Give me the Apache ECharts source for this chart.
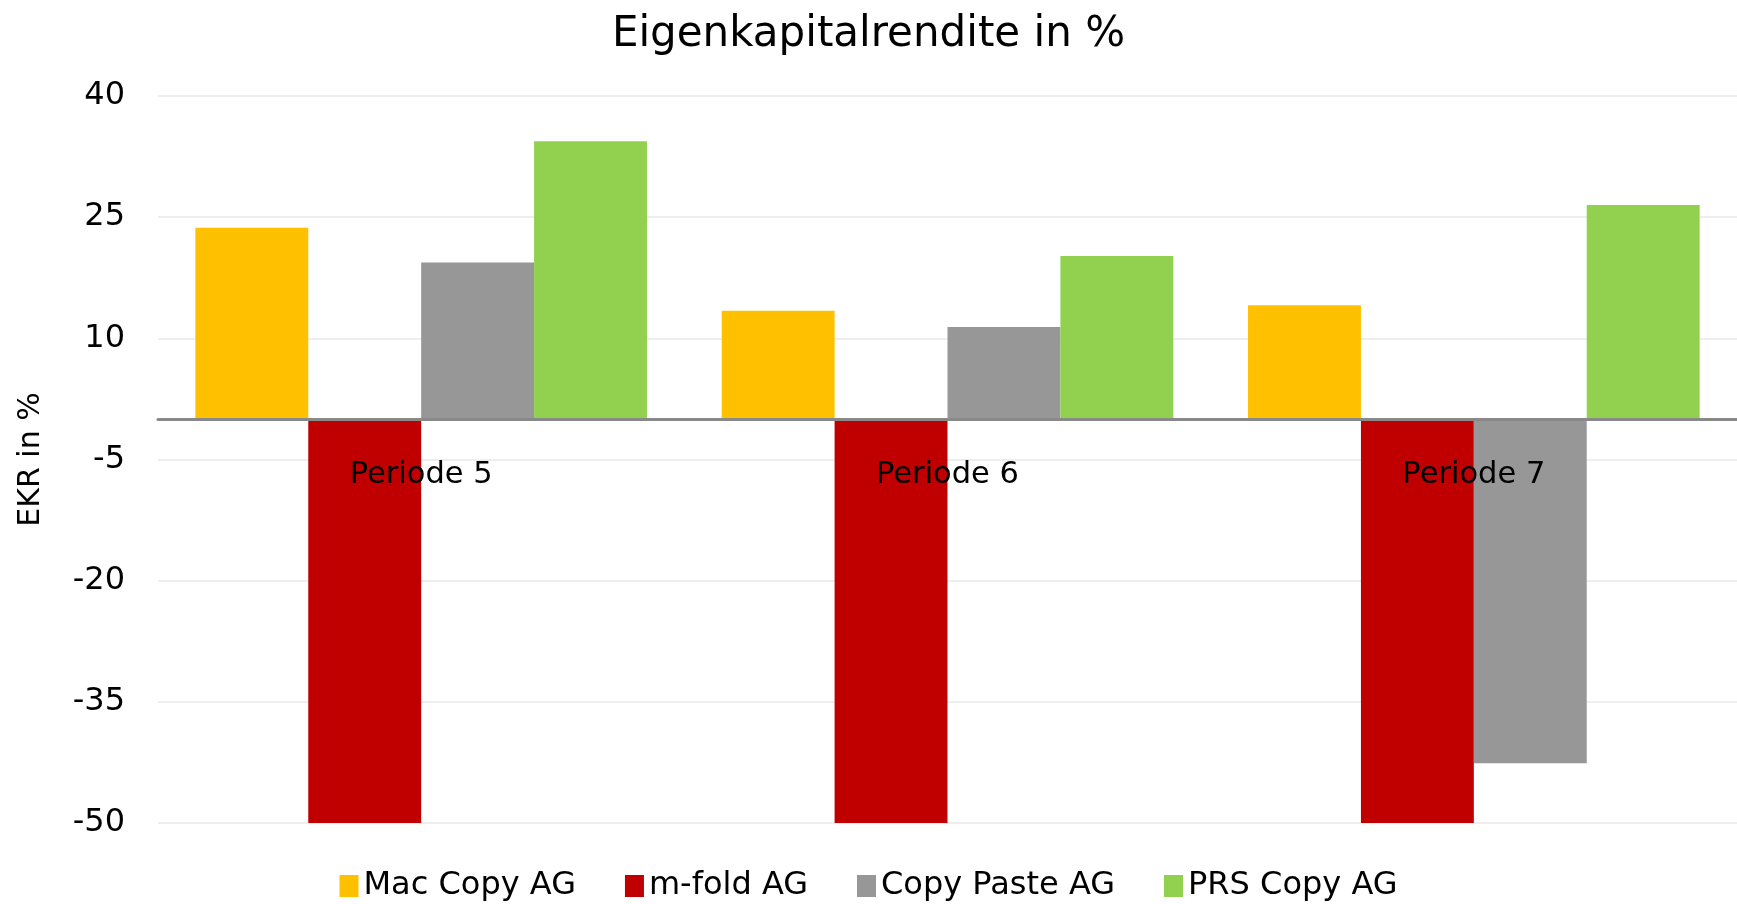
<!DOCTYPE html>
<html>
<head>
<meta charset="utf-8">
<title>Eigenkapitalrendite in %</title>
<script src="https://cdn.jsdelivr.net/npm/echarts@6/dist/echarts.min.js"></script>
<style>
  html, body { margin: 0; padding: 0; background: #fff; }
  #chart { width: 1737px; height: 904px; }
</style>
</head>
<body>
<div id="chart"></div>
<script>
// Perioden und Werte (EKR in %)
var periods = ['Periode 5', 'Periode 6', 'Periode 7'];
var macCopy = [23.7, 13.4, 14.1];
var mFold = [-50, -50, -50];
var copyPaste = [19.4, 11.4, -42.6];
var prsCopy = [34.4, 20.2, 26.5];

var font = 'DejaVu Sans';

var chart = echarts.init(document.getElementById('chart'));

chart.setOption({
    animation: false,
    textStyle: { fontFamily: font },
    title: {
        text: 'Eigenkapitalrendite in %',
        left: 'center',
        top: 9,
        textStyle: { fontFamily: font, fontSize: 42, fontWeight: 'normal', color: '#000' }
    },
    legend: {
        bottom: -3,
        left: 'center',
        itemWidth: 19,
        itemHeight: 22,
        itemGap: 49,
        icon: 'rect',
        textStyle: { fontFamily: font, fontSize: 32, color: '#000', padding: [0, 0, 0, 0] },
        data: ['Mac Copy AG', 'm-fold AG', 'Copy Paste AG', 'PRS Copy AG']
    },
    grid: {
        left: 158,
        right: 0,
        top: 96,
        bottom: 81
    },
    xAxis: {
        type: 'category',
        data: periods,
        z: 10,
        axisLine: { onZero: true, lineStyle: { color: '#898989', width: 3 } },
        axisTick: { show: false },
        // Beschriftung unter der Nulllinie, nicht am unteren Rand
        axisLabel: { fontFamily: font, fontSize: 30.5, color: '#000', margin: -363 },
        splitLine: { show: false }
    },
    yAxis: {
        type: 'value',
        min: -50,
        max: 40,
        interval: 15,
        name: 'EKR in %',
        nameLocation: 'middle',
        nameGap: 112,
        nameTextStyle: { fontFamily: font, fontSize: 30, color: '#000' },
        axisLine: { show: false },
        axisTick: { show: false },
        axisLabel: { fontFamily: font, fontSize: 32, color: '#000', margin: 33, padding: [6, 0, 0, 0] },
        splitLine: { lineStyle: { color: '#eeeeee', width: 2 } }
    },
    series: [
        {
            name: 'Mac Copy AG',
            type: 'bar',
            data: macCopy,
            barGap: '0%',
            barCategoryGap: '14.2%',
            itemStyle: { color: '#FFC000' }
        },
        {
            name: 'm-fold AG',
            type: 'bar',
            data: mFold,
            itemStyle: { color: '#C00000' }
        },
        {
            name: 'Copy Paste AG',
            type: 'bar',
            data: copyPaste,
            itemStyle: { color: '#979797' }
        },
        {
            name: 'PRS Copy AG',
            type: 'bar',
            data: prsCopy,
            itemStyle: { color: '#92D050' }
        }
    ]
});
</script>
</body>
</html>
